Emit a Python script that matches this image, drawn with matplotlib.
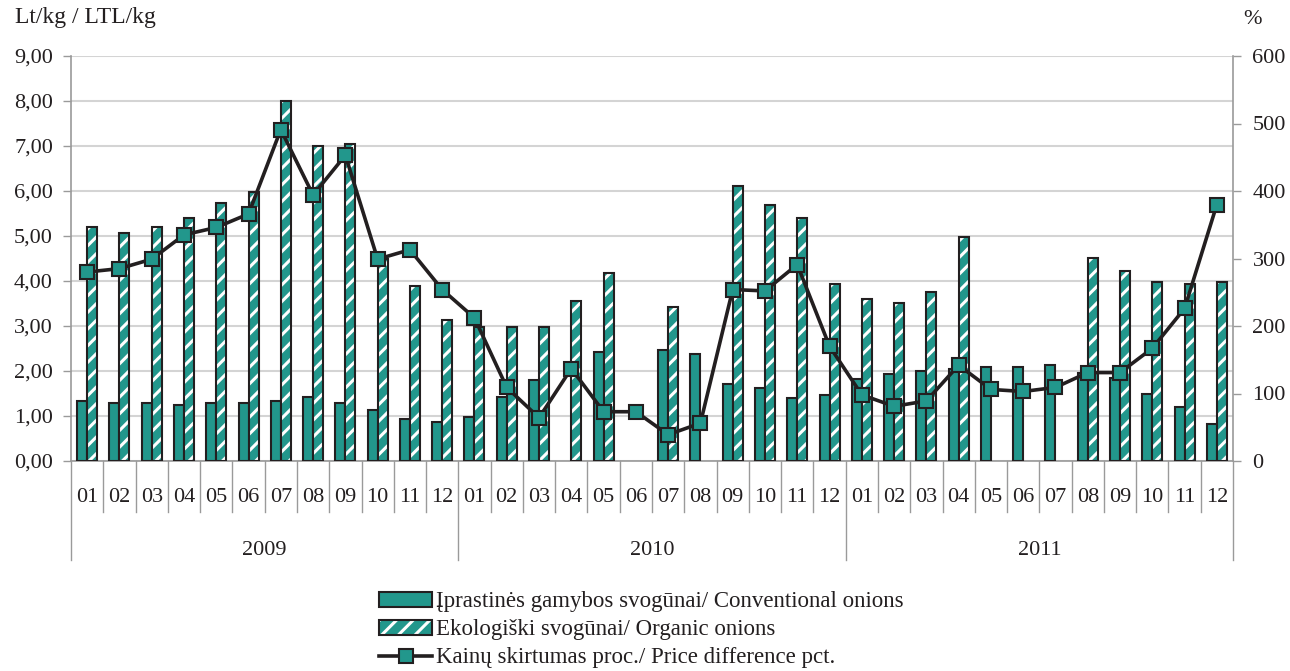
import numpy as np
import matplotlib.pyplot as plt
from matplotlib.patches import Patch
from matplotlib.lines import Line2D
from matplotlib.legend_handler import HandlerTuple
import matplotlib.transforms as mtransforms

plt.rcParams['font.family'] = ['Liberation Serif', 'DejaVu Serif']
plt.rcParams['hatch.linewidth'] = 2.2

# Duomenys
years = ['2009', '2010', '2011']
months = ['01', '02', '03', '04', '05', '06', '07', '08', '09', '10', '11', '12']

conventional = [1.34, 1.30, 1.30, 1.25, 1.30, 1.30, 1.34, 1.42, 1.30, 1.13, 0.93, 0.87,
                0.97, 1.43, 1.80, np.nan, 2.43, np.nan, 2.47, 2.38, 1.71, 1.63, 1.39, 1.47,
                1.83, 1.93, 2.01, 2.05, 2.09, 2.09, 2.13, 1.95, 1.84, 1.50, 1.21, 0.83]

organic = [5.19, 5.07, 5.19, 5.39, 5.73, 5.98, 8.00, 6.99, 7.04, 4.50, 3.90, 3.14,
           2.97, 2.98, 2.98, 3.56, 4.18, np.nan, 3.43, np.nan, 6.12, 5.70, 5.40, 3.93,
           3.60, 3.52, 3.76, 4.98, np.nan, np.nan, np.nan, 4.52, 4.23, 3.98, 3.93, 3.98]

difference = [280, 285, 299, 335, 346, 366, 491, 394, 453, 299, 313, 254,
              212, 109, 64, 137, 73, 73, 39, 56, 254, 252, 291, 170,
              98, 81, 89, 142, 106, 103, 109, 131, 131, 167, 226, 380]

teal = '#22978c'
dark = '#231f20'
grid_c = '#d4d4d4'
axis_c = '#9a9a9a'

n = len(conventional)
x = np.arange(n)
w = 0.31

fig = plt.figure(figsize=(12.9, 6.71), dpi=100)
ax = fig.add_axes([71 / 1290, 210 / 671, 1162 / 1290, 405 / 671])

# Stulpeliai
ax.bar(x - w / 2, conventional, w, color=teal, edgecolor=dark, linewidth=1.5, zorder=3)
ax.bar(x + w / 2, organic, w, color=teal, edgecolor='white', hatch='//', linewidth=0, zorder=3)
ax.bar(x + w / 2, organic, w, fill=False, edgecolor=dark, linewidth=1.5, zorder=4)

ax.set_ylim(0, 9)
ax.set_xlim(-0.5, n - 0.5)
ax.set_yticks(np.arange(0, 10, 1))
ax.set_yticklabels([('%.2f' % v).replace('.', ',') for v in range(10)], fontsize=16, color=dark)
ax.yaxis.grid(True, color=grid_c, linewidth=1.5, zorder=0)
ax.tick_params(axis='y', length=6, color=axis_c, width=1, pad=7)
ax.set_xticks([])
for s in ['top', 'right']:
    ax.spines[s].set_visible(False)
for s in ['left', 'bottom']:
    ax.spines[s].set_color(axis_c)
    ax.spines[s].set_linewidth(1.2)

# Linija dešinėje ašyje
ax2 = ax.twinx()
ax2.plot(x, difference, color=dark, linewidth=2.6, marker='s', markersize=9.5,
         markerfacecolor=teal, markeredgecolor=dark, markeredgewidth=1.5, zorder=5)
ax2.set_ylim(0, 600)
ax2.set_yticks(np.arange(0, 700, 100))
ax2.set_yticklabels([str(v) for v in range(0, 700, 100)], fontsize=16, color=dark)
ax2.tick_params(axis='y', length=6, color=axis_c, width=1, pad=8)
for s in ['top', 'left', 'bottom']:
    ax2.spines[s].set_visible(False)
ax2.spines['right'].set_color(axis_c)
ax2.spines['right'].set_linewidth(1.2)
ax2.set_zorder(ax.get_zorder() + 1)
ax2.patch.set_visible(False)

# Kategorijų ašis (mėnesiai ir metai)
trans = mtransforms.blended_transform_factory(ax.transData, ax.transAxes)
for i in range(n + 1):
    bottom = -0.244 if i % 12 == 0 else -0.126
    ax.plot([i - 0.5, i - 0.5], [0, bottom], transform=trans, color=axis_c,
            linewidth=1, clip_on=False)
for i in range(n):
    ax.text(i, -0.09, months[i % 12], transform=trans, ha='center', va='center',
            fontsize=16, color=dark)
for k, yr in enumerate(years):
    ax.text(k * 12 + 5.5, -0.22, yr, transform=trans, ha='center', va='center',
            fontsize=16, color=dark)

fig.text(15 / 1290, 1 - 18 / 671, 'Lt/kg / LTL/kg', ha='left', va='center', fontsize=17, color=dark)
fig.text(1253 / 1290, 1 - 20 / 671, '%', ha='center', va='center', fontsize=16, color=dark)

# Legenda
h1 = Patch(facecolor=teal, edgecolor=dark, linewidth=1.5)
h2 = (Patch(facecolor=teal, edgecolor='white', hatch='//', linewidth=0),
      Patch(fill=False, edgecolor=dark, linewidth=1.5))
h3 = Line2D([], [], color=dark, linewidth=2.6, marker='s', markersize=9.5,
            markerfacecolor=teal, markeredgecolor=dark, markeredgewidth=1.5)
fig.legend([h1, h2, h3],
           ['Įprastinės gamybos svogūnai/ Conventional onions',
            'Ekologiški svogūnai/ Organic onions',
            'Kainų skirtumas proc./ Price difference pct.'],
           handler_map={tuple: HandlerTuple(ndivide=1)},
           loc='upper left', bbox_to_anchor=(368 / 1290, 1 - 580 / 671),
           frameon=False, fontsize=16.5, labelcolor=dark, handlelength=2.3,
           handleheight=0.6, handletextpad=0.15, labelspacing=0.3, borderpad=0)

fig.savefig('out.png', dpi=100)
